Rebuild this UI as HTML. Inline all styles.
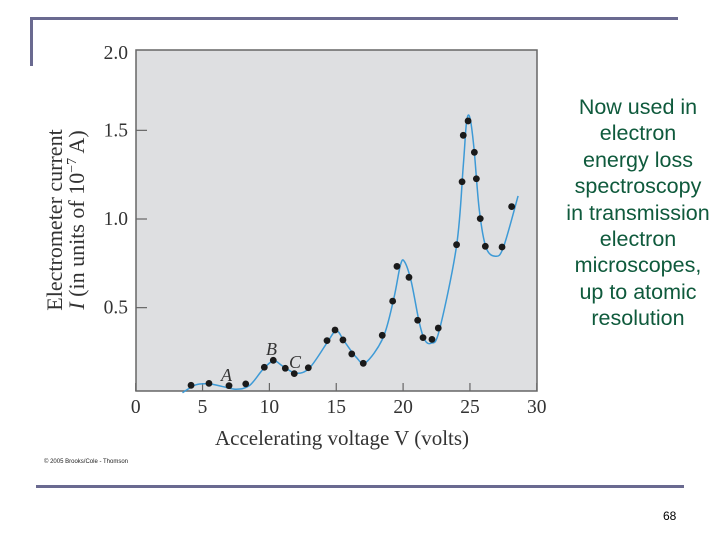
<!DOCTYPE html>
<html><head><meta charset="utf-8"><style>
html,body{margin:0;padding:0;background:#fff;}
body{width:720px;height:540px;position:relative;overflow:hidden;font-family:"Liberation Serif",serif;}
.note{position:absolute;left:548px;top:94px;width:180px;text-align:center;font-family:"Liberation Sans",sans-serif;font-size:21.5px;line-height:26.4px;color:#0f5a3c;}
</style></head><body>
<div style="position:absolute;left:30px;top:17px;width:648px;height:3px;background:#6a6a90"></div>
<div style="position:absolute;left:30px;top:17px;width:3px;height:49px;background:#6a6a90"></div>
<div style="position:absolute;left:36px;top:485px;width:648px;height:3px;background:#6a6a90"></div>
<div class="note">Now used in<br>electron<br>energy loss<br>spectroscopy<br>in transmission<br>electron<br>microscopes,<br>up to atomic<br>resolution</div>
<div style="position:absolute;left:663px;top:509px;font-family:'Liberation Sans',sans-serif;font-size:12px;color:#000">68</div>
<div style="position:absolute;left:44px;top:459px;font-family:'Liberation Sans',sans-serif;font-size:6px;color:#222">© 2005 Brooks/Cole - Thomson</div>
<svg id="chart" width="720" height="540" style="position:absolute;left:0;top:0">
<rect x="136" y="50" width="401" height="341" fill="#dedfe1" stroke="#666" stroke-width="1.5"/>
<g id="ticks"></g>
<path id="curve" fill="none" stroke="#3d9ad6" stroke-width="1.5"/>
<g id="pts"></g>
<text x="221" y="381" font-size="18" font-style="italic" fill="#333">A</text>
<text x="266" y="355" font-size="18" font-style="italic" fill="#333">B</text>
<text x="289" y="368" font-size="18" font-style="italic" fill="#333">C</text>
<text x="342" y="445" font-size="21" text-anchor="middle" fill="#333">Accelerating voltage V (volts)</text>
<g transform="translate(62,220) rotate(-90)">
<text x="0" y="0" font-size="22" text-anchor="middle" fill="#333">Electrometer current</text>
<text x="0" y="22" font-size="22" text-anchor="middle" fill="#333"><tspan font-style="italic">I</tspan> (in units of 10<tspan font-size="14" dy="-8">−7</tspan><tspan dy="8"> A)</tspan></text>
</g>
</svg>
<script>
const xTicks=[0,5,10,15,20,25,30];
const yTicks=[0.5,1.0,1.5];
const yTopLabel='2.0';
const dataV=[4.14,5.48,6.98,8.23,9.62,10.29,11.19,11.86,12.91,14.31,14.91,15.5,16.16,17.02,18.44,19.22,19.54,20.44,21.09,21.49,22.16,22.63,24.0,24.41,24.5,24.86,25.33,25.48,25.77,26.15,27.4,28.12];
const dataI=[0.062,0.073,0.06,0.07,0.164,0.203,0.158,0.128,0.161,0.314,0.374,0.318,0.239,0.186,0.344,0.537,0.733,0.671,0.429,0.331,0.321,0.385,0.855,1.21,1.472,1.553,1.376,1.227,1.002,0.846,0.842,1.07];
const curveV=[3.5,4.5,5.5,6.5,7.5,8.5,9.5,10.3,11,12,13,14.3,15,15.6,16.5,17.2,18.5,19.3,19.8,20.1,20.6,21.2,21.6,22.1,22.7,24,24.5,24.75,25,25.3,25.7,26.2,26.9,27.5,28.6];
const curveI=[0.02,0.065,0.07,0.055,0.04,0.06,0.15,0.2,0.17,0.13,0.16,0.3,0.37,0.31,0.22,0.19,0.33,0.55,0.74,0.76,0.65,0.42,0.32,0.3,0.37,0.85,1.3,1.55,1.57,1.4,1.05,0.84,0.79,0.84,1.13];
const X=v=>135.7+v*13.37;
const Y=v=>396.3-v*177.3;
const NS='http://www.w3.org/2000/svg';
const tg=document.getElementById('ticks');
xTicks.forEach(t=>{
  const l=document.createElementNS(NS,'line');
  
  
  l.setAttribute('x1',X(t));l.setAttribute('x2',X(t));l.setAttribute('y1',391);l.setAttribute('y2',383);
  l.setAttribute('stroke','#666');l.setAttribute('stroke-width','1.2');tg.appendChild(l);
  const s=document.createElementNS(NS,'text');
  
  
  s.setAttribute('x',X(t));s.setAttribute('y',413);s.setAttribute('text-anchor','middle');
  s.setAttribute('font-size','19.5');s.setAttribute('fill','#333');s.textContent=t;tg.appendChild(s);
});
yTicks.forEach(t=>{
  const l=document.createElementNS(NS,'line');
  
  
  l.setAttribute('x1',136);l.setAttribute('x2',147);l.setAttribute('y1',Y(t));l.setAttribute('y2',Y(t));
  l.setAttribute('stroke','#666');l.setAttribute('stroke-width','1.2');tg.appendChild(l);
  const s=document.createElementNS(NS,'text');
  
  
  s.setAttribute('x',128);s.setAttribute('y',Y(t)+6);s.setAttribute('text-anchor','end');
  s.setAttribute('font-size','19.5');s.setAttribute('fill','#333');s.textContent=t.toFixed(1);tg.appendChild(s);
});
{
  const s=document.createElementNS(NS,'text');
  
  
  s.setAttribute('x',128);s.setAttribute('y',59);s.setAttribute('text-anchor','end');
  s.setAttribute('font-size','19.5');s.setAttribute('fill','#333');s.textContent=yTopLabel;tg.appendChild(s);
}
const P=curveV.map((v,i)=>[X(v),Y(curveI[i])]);
let d='M'+P[0][0]+','+P[0][1];
for(let i=0;i<P.length-1;i++){
  const p0=P[i-1]||P[i],p1=P[i],p2=P[i+1],p3=P[i+2]||P[i+1];
  const c1=[p1[0]+(p2[0]-p0[0])/6,p1[1]+(p2[1]-p0[1])/6];
  const c2=[p2[0]-(p3[0]-p1[0])/6,p2[1]-(p3[1]-p1[1])/6];
  d+=' C'+c1+' '+c2+' '+p2;
}
document.getElementById('curve').setAttribute('d',d);
const pg=document.getElementById('pts');
dataV.forEach((v,i)=>{
  const c=document.createElementNS(NS,'circle');
  
  
  c.setAttribute('cx',X(v));c.setAttribute('cy',Y(dataI[i]));c.setAttribute('r',3.4);c.setAttribute('fill','#1a1a1a');
  pg.appendChild(c);
});
</script>
</body></html>
